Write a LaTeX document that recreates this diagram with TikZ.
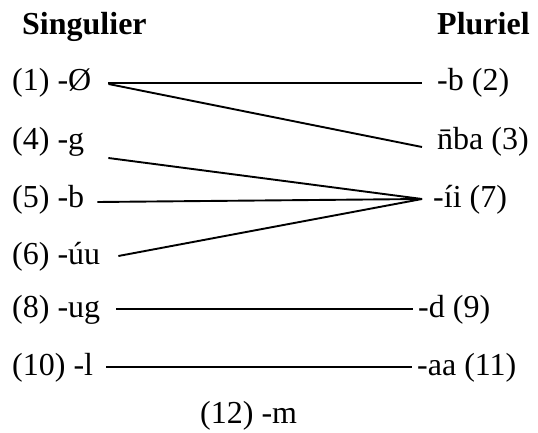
\documentclass[tikz,border=0pt]{standalone}
\usepackage{fontspec}
\setmainfont{Liberation Serif}
\usepackage{tikz}
\usetikzlibrary{positioning}

\begin{document}
\begin{tikzpicture}[
  x=1pt,y=1pt,
  lbl/.style={
    anchor=base west,
    inner sep=0pt,
    text height=22pt,
    text depth=6pt,
    font=\fontsize{32}{38}\selectfont
  },
  hdr/.style={
    lbl,
    font=\fontsize{32}{38}\selectfont\bfseries
  },
  lnk/.style={
    line width=1.9pt
  }
]
\useasboundingbox (0,0) rectangle (538,432);
\node[hdr] (sing) at (22,397) {Singulier};
\node[hdr] (plur) at (437,397) {Pluriel};
\node[lbl] (s1) at (12,341) {(1) -Ø};
\node[lbl] (s4) at (12,283) {(4) -g};
\node[lbl] (s5) at (12,225) {(5) -b};
\node[lbl] (s6) at (12,168) {(6) -úu};
\node[lbl] (s8) at (12,115) {(8) -ug};
\node[lbl] (s10) at (12,57) {(10) -l};
\node[lbl] (s12) at (200,9) {(12) -m};
\node[lbl] (p2) at (437,341) {-b (2)};
\node[lbl] (p3) at (437,283) {\={n}ba (3)};
\node[lbl] (p7) at (433,225) {-íi (7)};
\node[lbl] (p9) at (418,115) {-d (9)};
\node[lbl] (p11) at (417,57) {-aa (11)};
\draw[lnk] ([xshift=17pt]s1.east) -- ([xshift=-15pt]p2.west);
\draw[lnk] ([xshift=17pt,yshift=-1pt]s1.east) -- ([xshift=-15pt,yshift=-6pt]p3.west);
\draw[lnk] ([xshift=24pt,yshift=-17pt]s4.east) -- ([xshift=-11pt]p7.west);
\draw[lnk] ([xshift=13pt,yshift=-3pt]s5.east) -- ([xshift=-11pt]p7.west);
\draw[lnk] ([xshift=18pt]s6.east) -- ([xshift=-11pt]p7.west);
\draw[lnk] ([xshift=16pt]s8.east) -- ([xshift=-5pt]p9.west);
\draw[lnk] ([xshift=13pt]s10.east) -- ([xshift=-5pt]p11.west);
\end{tikzpicture}
\end{document}
